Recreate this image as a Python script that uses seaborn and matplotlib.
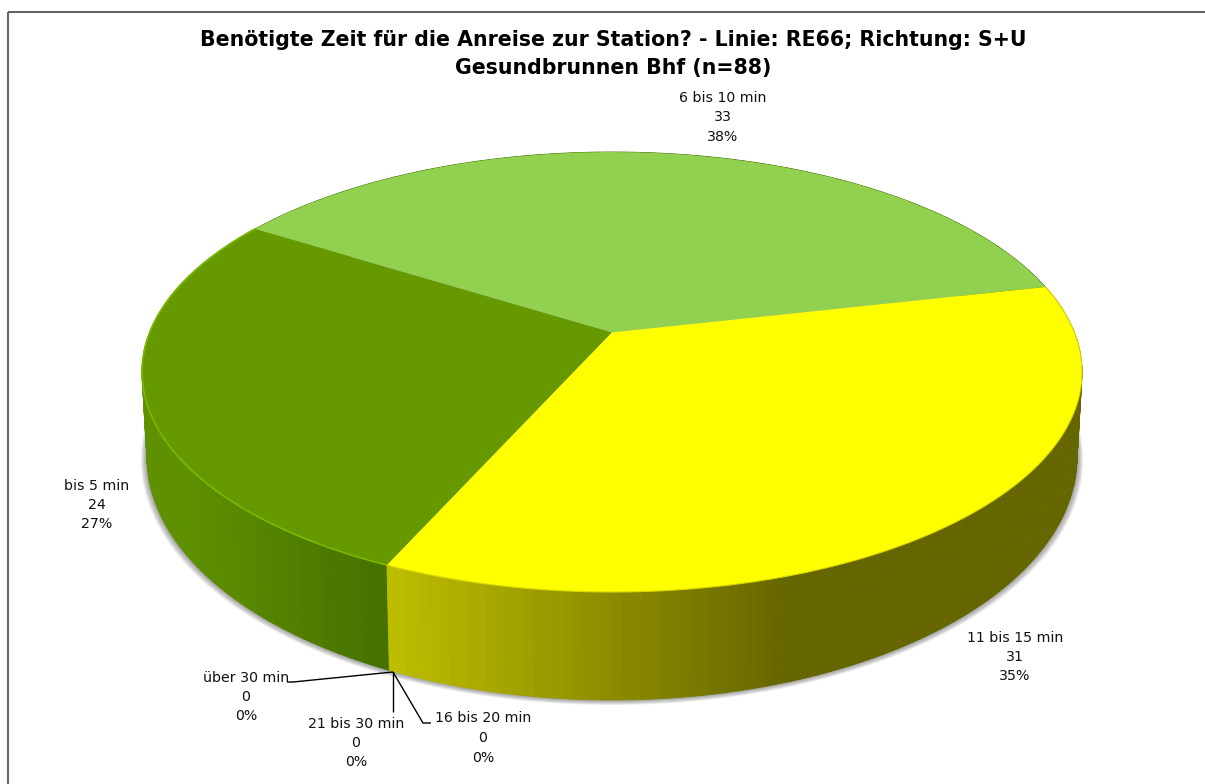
import numpy as np
import seaborn as sns
import matplotlib.pyplot as plt
from matplotlib.patches import Rectangle
from matplotlib.transforms import Transform

# data
categories = ["bis 5 min", "6 bis 10 min", "11 bis 15 min", "16 bis 20 min", "21 bis 30 min", "über 30 min"]
counts = [24, 33, 31, 0, 0, 0]
percents = ["27%", "38%", "35%", "0%", "0%", "0%"]
title = "Benötigte Zeit für die Anreise zur Station? - Linie: RE66; Richtung: S+U\nGesundbrunnen Bhf (n=88)"

top_colors = ["#669900", "#92D050", "#FFFF00", "#FFC000", "#FF0000", "#C00000"]
wall_colors = [("#5E9000", "#466F00"), ("#5E9000", "#466F00"), ("#BDBD00", "#666600"),
               ("#BDBD00", "#666600"), ("#BDBD00", "#666600"), ("#BDBD00", "#666600")]
wall_ramp = [(190, 390), (190, 390), (390, 780), (390, 780), (390, 780), (390, 780)]

# pixel layout of the tilted pie
TOP = (612, 372, 470, 220)
BOTTOM = (612, 457, 465, 243)
TILT = 0.18

# where the label block sits and where its leader starts
label_pos = [(97, 505), (723, 117), (1015, 657), (483, 738), (356, 743), (246, 697)]
leaders = [None, None, None,
           [(393, 672), (423, 723), (431, 723)],
           [(393, 672), (393, 712)],
           [(393, 672), (293, 682), (287, 682)]]


def flatten(xy, ellipse):
    # perspective view of the unit circle, centre moves up towards the back
    cx, cy, rx, ry = ellipse
    x, y = xy[..., 0], xy[..., 1]
    d = 1 + TILT * y
    u = x * np.sqrt(1 - TILT ** 2) / d
    v = (y + TILT) / d
    return np.stack([cx + rx * u, cy - ry * v], axis=-1)


class Flatten(Transform):
    input_dims = 2
    output_dims = 2
    is_affine = False

    def __init__(self, ellipse):
        super().__init__()
        self.ellipse = ellipse

    def transform_non_affine(self, values):
        return flatten(np.asarray(values), self.ellipse)


def ring(theta, ellipse):
    t = np.radians(theta)
    return flatten(np.stack([np.cos(t), np.sin(t)], axis=-1), ellipse)


sns.set_theme(style="white")
plt.rcParams['font.family'] = ['DejaVu Sans']

fig = plt.figure(figsize=(12.05, 7.84), dpi=100)
ax = fig.add_axes([0, 0, 1, 1])

wedges, _ = ax.pie(counts, colors=top_colors, startangle=246, counterclock=False,
                   wedgeprops={'linewidth': 0, 'edgecolor': 'none'})
ax.set_aspect('auto')
ax.set_xlim(0, 1205)
ax.set_ylim(784, 0)
ax.axis('off')

top_tf = Flatten(TOP) + ax.transData
for w in wedges:
    w.set_transform(top_tf)
    w.set_zorder(5)

# soft shadow under the wall
angles = np.linspace(0, 360, 361)
cx, cy, rx, ry = BOTTOM
for grow in range(6, 0, -1):
    pts = ring(angles, (cx, cy + grow * 0.5, rx + grow, ry + grow * 0.33))
    ax.fill(pts[:, 0], pts[:, 1], color="#4A4A4A", alpha=0.1, lw=0, zorder=1)

# side wall, small strips so the shade can follow x
for w, ramp, shades in zip(wedges, wall_ramp, wall_colors):
    if w.theta2 - w.theta1 == 0:
        continue
    steps = np.arange(w.theta1, w.theta2 + 1, 1.0)
    steps[-1] = w.theta2
    shade = sns.blend_palette(shades, 64)
    for a, b in zip(steps[:-1], steps[1:]):
        p = ring(np.array([a, b]), TOP)
        q = ring(np.array([b, a]), BOTTOM)
        quad = np.vstack([p, q])
        f = np.interp(quad[:, 0].mean(), ramp, [0, 1])
        ax.fill(quad[:, 0], quad[:, 1], color=shade[int(f * 63)], lw=0.6, zorder=2)

# bevel on the top edge
rim = ring(np.linspace(wedges[0].theta1, wedges[0].theta2, 120), TOP)
ax.plot(rim[:, 0], rim[:, 1], color="#7CB800", lw=1.2, zorder=6)
rim = ring(np.linspace(wedges[2].theta1, wedges[2].theta2, 200), TOP)
ax.plot(rim[:, 0], rim[:, 1], color="#DADA00", lw=0.8, zorder=6)

# leader lines
for line in leaders:
    if line:
        xs, ys = zip(*line)
        ax.plot(xs, ys, color="black", lw=1.0, zorder=7, solid_capstyle='butt')

for name, n, pct, (x, y) in zip(categories, counts, percents, label_pos):
    ax.text(x, y, f"{name}\n{n}\n{pct}", ha='center', va='center', fontsize=10.2,
            linespacing=1.5, color="#111111", zorder=8)

ax.text(613, 54, title, ha='center', va='center', fontsize=14.8, fontweight='bold',
        color="black", linespacing=1.47, zorder=8)

# chart frame, runs off the right and bottom of the image
ax.add_patch(Rectangle((8, 12), 1300, 900, fill=False, edgecolor="#666666", lw=1.5, zorder=9))

fig.savefig('out.png', dpi=100)
